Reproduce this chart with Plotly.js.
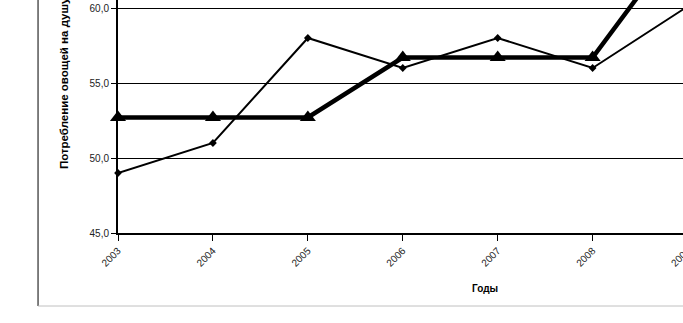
<!DOCTYPE html>
<html><head><meta charset="utf-8">
<script src="https://cdn.plot.ly/plotly-3.0.1.min.js"></script>
<style>
html,body{margin:0;padding:0;width:683px;height:323px;overflow:hidden;background:#fff;}
#chart{position:absolute;left:0;top:-160px;width:760px;height:483px;}
</style></head>
<body><div id="chart"></div>
<script>
const years = [2003, 2004, 2005, 2006, 2007, 2008, 2009];
const tickLabels = ["2003", "2004", "2005", "2006", "2007", "2008", "2009"];
const actualValues = [49.0, 51.0, 58.0, 56.0, 58.0, 56.0, 60.1];
const smoothedValues = [52.7, 52.7, 52.7, 56.7, 56.7, 56.7, 65.2];
const yTitle = "Потребление овощей на душу населения, кг";
const xTitle = "Годы";

const traces = [
  {x: years, y: actualValues, type: 'scatter', mode: 'lines+markers',
   line: {color: '#000', width: 2}, marker: {symbol: 'diamond', size: 6, color: '#000'},
   cliponaxis: false, showlegend: false},
  {x: years, y: smoothedValues, type: 'scatter', mode: 'lines+markers',
   line: {color: '#000', width: 4.5}, marker: {symbol: 'triangle-up', size: 14, color: '#000'},
   cliponaxis: false, showlegend: false}
];

const layout = {
  width: 760, height: 483,
  margin: {l: 118, r: 24.5, t: 18, b: 90, pad: 0},
  paper_bgcolor: '#fff', plot_bgcolor: '#fff',
  separators: ', ',
  font: {family: 'Arial, Liberation Sans, sans-serif', color: '#000'},
  xaxis: {
    type: 'linear', range: [2003, 2009.5], tickvals: years, ticktext: tickLabels,
    tickangle: -45, tickfont: {size: 10, color: '#222'},
    ticks: 'outside', ticklen: 6, tickcolor: '#000', tickwidth: 1,
    showline: true, linecolor: '#000', linewidth: 2, showgrid: false, zeroline: false,
    automargin: false
  },
  yaxis: {
    range: [45, 70], dtick: 5, tick0: 45, tickformat: '.1f',
    tickfont: {size: 10, color: '#222'},
    ticks: 'outside', ticklen: 5, tickcolor: '#000', tickwidth: 1,
    showline: true, linecolor: '#000', linewidth: 2,
    showgrid: true, gridcolor: '#000', gridwidth: 1, zeroline: false,
    automargin: false
  },
  annotations: [
    {text: '<b>' + yTitle + '</b>', xref: 'paper', yref: 'paper', x: -0.0874, y: 0.1653,
     xanchor: 'center', yanchor: 'bottom', textangle: -90, showarrow: false,
     font: {size: 11.5, color: '#000'}},
    {text: '<b>' + xTitle + '</b>', xref: 'paper', yref: 'paper', x: 0.5943, y: -0.1493,
     xanchor: 'center', yanchor: 'middle', showarrow: false,
     font: {size: 10, color: '#000'}}
  ],
  shapes: [
    {type: 'line', xref: 'paper', yref: 'paper', x0: -0.1296, x1: -0.1296, y0: -0.1947, y1: 1.2,
     line: {color: '#000', width: 1}},
    {type: 'line', xref: 'paper', yref: 'paper', x0: -0.1296, x1: 1.2, y0: -0.1947, y1: -0.1947,
     line: {color: '#c0c0c0', width: 1}}
  ]
};
Plotly.newPlot('chart', traces, layout, {displayModeBar: false, staticPlot: true});
</script></body></html>
